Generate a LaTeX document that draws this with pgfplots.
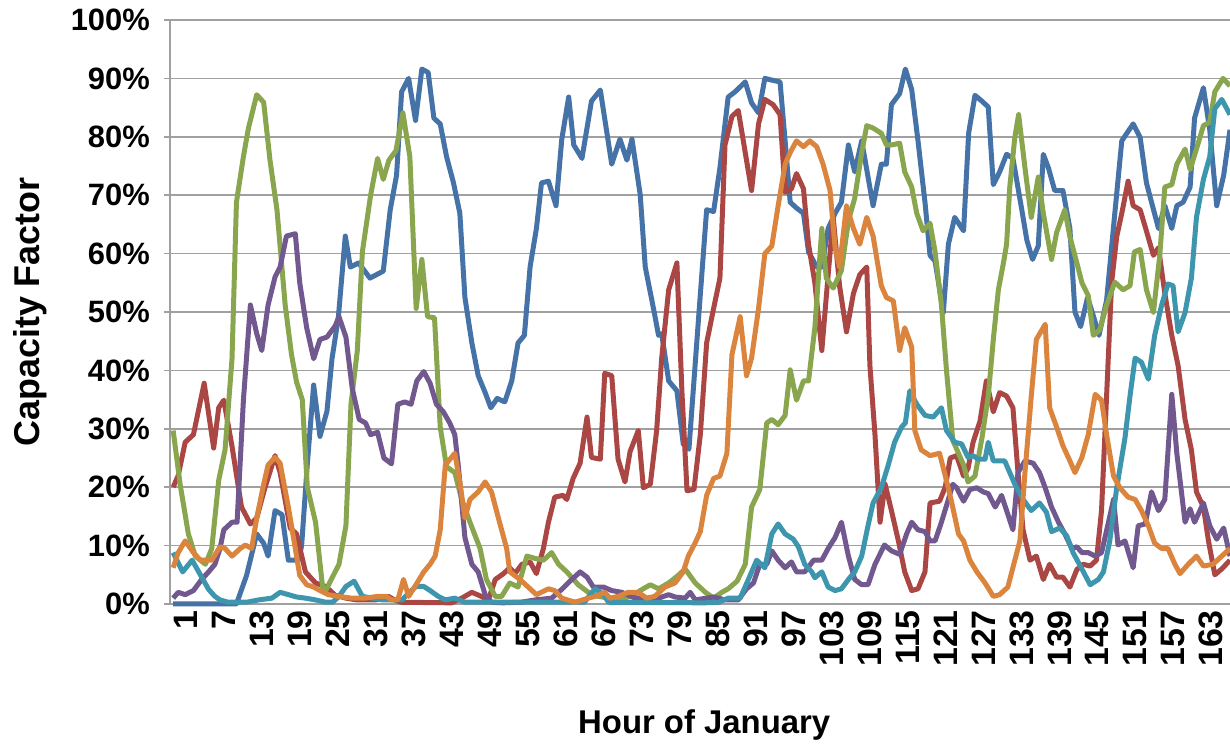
\documentclass[border=0pt]{standalone}
\usepackage{pgfplots}
\pgfplotsset{compat=1.18}
\usepackage{fontspec}
\setmainfont{Liberation Sans}
\definecolor{cBlue}{HTML}{4572A7}
\definecolor{cRed}{HTML}{AA4643}
\definecolor{cGreen}{HTML}{89A54E}
\definecolor{cPurple}{HTML}{71588F}
\definecolor{cCyan}{HTML}{3D96AE}
\definecolor{cOrange}{HTML}{DB843D}
\definecolor{cGrid}{HTML}{A0A0A0}
\begin{document}
\begin{tikzpicture}[x=1bp,y=1bp]
\useasboundingbox (0,0) rectangle (1230,745);
\begin{axis}[
  at={(170bp,141bp)}, anchor=south west,
  scale only axis, width=1060bp, height=584bp,
  xmin=0.5, xmax=168, ymin=0, ymax=100,
  clip=false,
  axis x line*=bottom, axis y line*=left,
  axis line style={cGrid, line width=1.5bp, -},
  ymajorgrids, grid style={cGrid, line width=1.5bp},
  ytick={0,10,...,100},
  yticklabels={0\%,10\%,20\%,30\%,40\%,50\%,60\%,70\%,80\%,90\%,100\%},
  xtick={1,7,...,163},
  xtick style={draw=none},
  ytick style={cGrid, line width=1.5bp},
  tick align=outside, major tick length=6bp,
  /pgf/number format/assume math mode=true,
  yticklabel style={font=\fontsize{31}{31}\selectfont\bfseries, anchor=east, inner sep=0pt, xshift=-14bp},
  xticklabel style={font=\fontsize{34}{34}\selectfont\bfseries, rotate=90, anchor=east, inner sep=0pt, yshift=-13bp},
  xlabel={Hour of January}, ylabel={Capacity Factor},
  xlabel style={font=\fontsize{33}{33}\selectfont\bfseries, at={(axis description cs:0.504,-0.207)}, anchor=center},
  ylabel style={font=\fontsize{36}{36}\selectfont\bfseries, at={(axis description cs:-0.132,0.5)}, anchor=center},
  no markers,
  every axis plot/.append style={line width=5bp, line join=round},
]
% blue
\addplot[cBlue] coordinates {(1,0) (11,0) (12.6,4.9) (14.2,12) (15.3,10.4) (16,8.2) (17.1,16) (18.2,15.3) (19.2,7.5) (20.8,7.5) (21.3,10) (22.2,24) (23.2,37.5) (24.2,28.7) (25.3,33) (26.1,42) (27.1,49) (28.2,63) (29,57.7) (30.3,58.4) (32.1,55.8) (34.2,57) (35.3,67.5) (36.3,73.4) (37.1,87.7) (38.2,90) (39.3,82.8) (40.3,91.6) (41.3,91) (42.2,83.2) (43.2,82.2) (44.2,76.6) (45.3,72.1) (46.3,66.9) (47.1,52.5) (48.2,44.7) (49.2,39.1) (50.3,36.2) (51.2,33.6) (52.2,35.2) (53.4,34.6) (54.5,38.2) (55.5,44.7) (56.5,46) (57.4,57.7) (58.4,64.3) (59.2,72.1) (60.3,72.4) (61.5,68.2) (62.4,79.5) (63.5,86.8) (64.3,78.6) (65.6,76.3) (67.1,86.1) (68.5,88) (70.3,75.3) (71.6,79.6) (72.7,76) (73.5,79.6) (74.8,70.1) (75.6,57.7) (76.9,50.6) (77.7,46) (78.2,46.3) (79.3,38.2) (80.6,36.5) (81.6,27.4) (82.5,26.5) (84,48.6) (85.3,67.5) (86.4,67.2) (87.4,74.7) (88.7,86.8) (89.8,87.7) (91.4,89.4) (92.4,85.8) (93.5,84.1) (94.5,90) (95.6,89.7) (96.9,89.4) (97.7,79.3) (98.5,68.8) (99.5,67.8) (100.6,66.9) (101.4,60.3) (102.7,57.7) (103.5,57.7) (104.5,64.3) (105.6,66.9) (106.6,68.8) (107.7,78.6) (108.7,74) (109.8,79.3) (111.6,68.2) (112.9,75.3) (113.7,75.3) (114.5,85.5) (115.8,87.4) (116.7,91.6) (117.7,88.1) (118.7,79.3) (119.8,68.8) (120.6,59.7) (121.4,58.7) (122.7,49.9) (123.5,61.6) (124.5,66.2) (125.9,63.9) (126.7,80.6) (127.7,87.1) (128.8,86.1) (129.8,85.1) (130.6,71.8) (131.6,74) (132.7,77) (133.7,76.3) (135.1,67.5) (135.9,62.3) (136.8,59) (137.7,61.3) (138.5,77) (139.3,74.7) (140.3,70.8) (141.6,70.8) (142.7,64.3) (143.5,50) (144.4,47.5) (145.5,52.5) (146.5,49) (147.3,46) (148.5,52) (149.8,66.9) (150.9,79.3) (151.7,80.6) (152.7,82.2) (153.8,79.9) (154.8,72.1) (155.6,68.8) (156.7,64.3) (157.7,68.2) (158.8,64.3) (159.6,68.2) (160.6,68.8) (161.7,71.4) (162.4,83.2) (163.8,88.4) (164.8,81.2) (165.9,68.2) (167,73.4) (168,81.2)};
% red
\addplot[cRed] coordinates {(1,20) (1.8,22) (2.9,27.7) (4.2,29) (5.9,37.8) (7.4,26.7) (8.2,33.6) (9,34.9) (10.3,27) (11.8,16.6) (13.2,13.7) (14.2,14.7) (15.5,19.9) (17.1,25.4) (17.9,22.5) (19.5,13) (20.5,12) (21.9,5.5) (23.5,3.6) (25.1,3) (26.6,1.5) (28.3,1) (30,0.7) (33,0.7) (35,1.3) (36,0.7) (37,0.3) (45,0.2) (46.6,1) (48.2,2) (49.7,1.3) (50.8,0.7) (51.9,4.2) (53.2,5.2) (54.2,6.2) (55,5.2) (56.1,6.8) (57.4,7.2) (58.4,5.2) (59.5,9.5) (60.3,14) (61.3,18.3) (62.6,18.6) (63.2,17.9) (64.2,21.5) (65.3,24.1) (66.4,32) (67.1,25.1) (68.5,24.8) (69.2,39.5) (70.3,39.1) (71.3,24.8) (72.4,20.9) (73.2,26.1) (74.5,29.7) (75.3,19.9) (76.4,20.5) (77.4,29.7) (78.2,42.1) (79.3,53.8) (80.6,58.4) (81.4,36.2) (82.2,19.4) (83.3,19.6) (84.3,29) (85.3,44.7) (86.4,50.6) (87.4,55.8) (88.2,78.6) (89.3,83.5) (90.3,84.5) (91.4,77.3) (92.4,70.8) (93.5,82.2) (94.5,86.4) (95.8,85.5) (96.9,83.8) (97.7,70.5) (98.7,71.1) (99.5,73.7) (100.6,71.1) (101.4,61.6) (102.4,55) (103.5,43.4) (104.5,56.4) (105.3,66.2) (106.3,54.5) (107.4,46.6) (108.5,53.2) (109.5,56.4) (110.6,57.7) (111.1,40.8) (111.9,29) (112.7,14) (113.5,20.5) (114.5,16) (115.6,10.8) (116.6,5.5) (117.7,2.3) (118.7,2.6) (119.8,5.5) (120.6,17.3) (122.1,17.6) (123,20) (123.8,25) (124.8,25.4) (125.9,21.9) (126.6,23.2) (127.4,27.7) (128.5,31.3) (129.5,38.2) (130.6,32.9) (131.6,36.2) (132.7,35.6) (133.7,33.6) (134.5,22.5) (135.3,12.7) (136.4,7.5) (137.4,8.2) (138.5,4.2) (139.5,6.8) (140.6,4.6) (141.6,4.6) (142.7,2.9) (143.8,5.9) (144.8,6.8) (145.9,6.5) (146.9,7.5) (147.7,16) (148.5,35.6) (149.3,55.1) (150.1,62.9) (150.9,66.9) (151.9,72.4) (152.7,68.2) (153.8,67.5) (154.6,64.6) (155.9,59.7) (156.7,61) (157.7,53.2) (158.8,46) (159.8,40.8) (160.9,31.6) (161.9,26.4) (162.7,19.2) (163.8,16.6) (164.6,10.8) (165.6,5) (166.7,6) (168,7.5)};
% green
\addplot[cGreen] coordinates {(1,29.7) (2.1,20.5) (3.4,12) (4.5,8.2) (6.1,6.8) (7.1,9.5) (8.2,21.2) (9.2,26.4) (10.3,42) (11,68.8) (12.1,76.6) (12.9,81.5) (14.2,87.2) (15.3,85.9) (16.3,76) (17.4,67.5) (18.7,51.2) (19.7,42.7) (20.5,38) (21.4,35) (22.2,20) (23.5,14) (24.6,3) (25.1,2.3) (27.2,6.8) (28.3,13.4) (29.1,34.2) (30.1,43.4) (30.9,60.3) (32.2,70) (33.3,76.3) (34.2,72.7) (35.1,76) (36.2,77.6) (37.3,84.1) (38.4,76.6) (39.4,50.6) (40.3,59) (41.2,49.2) (42.3,49) (43.2,30.3) (44.2,23.5) (45.5,22.5) (46.6,17.9) (47.9,14) (49.5,9.5) (50.5,4.2) (51.9,1.3) (52.9,1.3) (54.2,3.6) (55.5,2.9) (56.9,8.2) (58.2,7.8) (59.5,7.5) (60.8,8.8) (61.9,6.8) (63.2,5.5) (65,3.3) (66.6,2) (68.2,1.3) (70,1) (72,1) (73.5,1.3) (74.8,2.3) (76.4,3.3) (77.7,2.6) (79.3,3.6) (80.8,4.9) (81.9,6) (83.5,3.6) (85.1,2) (86.4,1) (87.7,2) (88.7,2.6) (90.1,3.9) (91.4,6.8) (92.4,16.6) (93.7,19.6) (94.8,31) (95.6,31.6) (96.6,30.7) (97.7,32.3) (98.5,40.1) (99.5,34.9) (100.6,38.2) (101.4,38.2) (102.4,47.3) (103.5,64.3) (104.2,55.8) (105.3,54.1) (106.6,57.1) (107.7,65.6) (108.7,69.5) (109.8,77.3) (110.6,81.9) (111.6,81.5) (112.9,80.6) (113.7,78.6) (114.5,78.6) (115.8,78.9) (116.6,74) (117.7,71.4) (118.5,66.9) (119.5,63.9) (120.6,65.2) (121.4,60.3) (122.4,51.2) (123.2,40) (124.2,28) (125.1,25.8) (125.9,23.8) (126.6,20.9) (127.7,21.9) (128.8,28.4) (129.8,35.6) (130.6,45.3) (131.4,53.8) (132.2,58.4) (132.7,61.6) (133.2,71.4) (134,79.9) (134.6,83.8) (135.6,74.7) (136.6,66.2) (137.7,73.1) (138.5,66.9) (139.8,59) (140.6,63.6) (141.9,67.5) (142.7,62.9) (143.8,58.4) (144.6,55) (145.6,52.8) (146.4,46) (147.4,46.9) (148.5,51.2) (149.8,55.1) (151.1,53.8) (152.2,54.5) (152.9,60.3) (153.8,60.7) (154.8,53.8) (155.9,49.9) (156.9,59.7) (157.7,71.4) (158.8,71.8) (159.6,75.3) (160.9,77.9) (161.7,74.4) (162.7,77.9) (163.8,81.9) (164.8,82.5) (165.6,87.7) (166.9,90) (168,88.7)};
% purple
\addplot[cPurple] coordinates {(1,1) (1.8,2) (2.9,1.6) (4.2,2.3) (5.5,4.2) (6.6,5.5) (7.6,6.8) (8.4,9.5) (9,12.7) (10.3,14) (11.1,14) (12.1,34.9) (13.2,51.2) (14.2,46.3) (15,43.4) (16,51.2) (17.1,56) (17.9,57.7) (18.9,63) (20.3,63.4) (21,55) (22.1,47.3) (23.2,42) (24.2,45.3) (25.3,45.7) (26.6,47.6) (27.2,49.2) (28.3,45.7) (29.3,36.9) (30.4,31.6) (31.4,31) (32.2,29) (33.3,29.4) (34.3,25) (35.5,24) (36.5,34.2) (37.6,34.6) (38.6,34.2) (39.5,38.2) (40.6,39.8) (41.6,37.8) (42.6,34.2) (43.7,32.9) (44.7,31) (45.5,29) (46.1,23.2) (47.1,11.4) (48.2,6.8) (49.2,5.5) (50.3,1.6) (51.3,0.3) (53,0.2) (56,0.3) (58.2,0.7) (60.8,1) (62.4,2.5) (63.7,3.9) (65.3,5.5) (66.4,4.6) (67.4,2.9) (69,2.9) (70.3,2.3) (71.9,2) (74,1) (77.7,1) (79.3,1.6) (80.3,1.2) (81.9,1) (82.7,2) (83.5,0.7) (86.4,1.2) (88.2,0.7) (90.3,0.7) (91.6,2.6) (92.7,3.6) (93.7,6.8) (94.8,6.8) (95.6,9.1) (96.6,7.5) (97.7,6.2) (98.7,7.2) (99.5,5.5) (100.8,5.5) (102.2,7.5) (103.5,7.5) (104.5,9.5) (105.6,11.4) (106.6,14) (107.7,8.2) (108.7,4.2) (109.8,3.3) (110.8,3.3) (111.9,6.8) (113.4,10.1) (114.5,9.1) (115.8,8.5) (116.9,12) (117.7,14) (118.7,12.7) (119.8,12.4) (120.6,10.8) (121.4,10.8) (122.4,14) (123.5,17.9) (124.2,20.5) (124.8,19.9) (125.9,17.6) (126.9,19.6) (128,19.9) (129,19.2) (129.8,18.9) (130.9,16.6) (131.9,18.6) (132.7,16) (133.7,12.7) (134.5,22.5) (135.6,24.5) (136.9,24.1) (137.9,22.5) (138.8,19.9) (139.8,16.6) (140.9,14) (141.9,12) (143,9.5) (143.8,9.8) (144.6,8.8) (145.6,8.8) (146.7,8.2) (147.7,8.8) (148.8,14) (149.6,17.9) (150.3,10.1) (151.4,10.8) (152.7,6.2) (153.5,13.4) (154.6,13.7) (155.6,19.2) (156.7,16) (157.7,17.9) (158.8,35.9) (159.6,25.8) (160.9,14) (161.7,16.3) (162.4,14) (163.8,17.3) (164.8,13.4) (165.9,11.1) (167,13) (168,8.2)};
% cyan
\addplot[cCyan] coordinates {(1,8.8) (2.5,5.5) (4,7.5) (5.3,5) (6.6,2.5) (7.6,1.3) (8.4,0.7) (9.7,0.3) (12.6,0.3) (14.5,0.7) (16.6,1) (17.9,2) (19.2,1.6) (20.5,1.2) (21.9,1) (23.5,0.7) (25.1,0.3) (26.2,0.3) (27.2,1.3) (28.3,3) (29.6,3.9) (30.9,1.3) (32.5,1) (34.1,0.7) (37.2,0.7) (38.3,2) (39.4,3) (40.6,3) (41.6,2.3) (42.9,1.3) (44,0.7) (45.5,1) (47.1,0.3) (66,0.3) (66.9,1.6) (67.7,2.6) (69,1.6) (69.8,0.3) (85,0.2) (87.2,0.3) (88.7,1) (90.6,1) (91.9,4.2) (93.2,7.5) (94.5,6.2) (95.6,12) (96.6,13.7) (97.7,12) (99,11.1) (99.8,9.8) (100.8,6.8) (101.9,5.5) (102.4,4.5) (103.5,5.5) (104.5,2.9) (105.6,2.3) (106.6,2.6) (107.7,4.2) (108.7,5.5) (109.8,8.2) (110.8,13.4) (111.6,17.3) (112.9,19.9) (114,23.8) (115,27.7) (116.1,30.3) (116.7,31) (117.4,36.5) (118.5,34.2) (119.8,32.3) (121.1,32) (122.4,33.6) (123.2,29.7) (124.5,27.7) (125.6,27.4) (126.6,25.1) (127.4,25.4) (128.2,24.8) (129.3,24.8) (129.8,27.7) (130.6,24.5) (132.4,24.5) (134,20.5) (135.3,17.9) (136.6,16) (137.9,17.3) (139,15.7) (139.8,12.4) (141.1,13) (142.2,11.7) (143.2,8.8) (144.5,6.2) (145.9,3.3) (147.2,4.2) (148,5.5) (149,10.8) (150.1,19.9) (151.4,28.4) (152.2,35.6) (153,42.1) (154,41.4) (155.1,38.5) (156.1,46) (157.2,51.2) (158.2,54.8) (159,54.5) (159.8,46.6) (160.9,49.9) (161.9,55.8) (162.7,66.2) (163.8,72.7) (164.8,76.6) (165.6,84.8) (166.7,86.4) (168,83.8)};
% orange
\addplot[cOrange] coordinates {(1,6.2) (1.8,8.8) (2.9,10.8) (4.2,8.8) (5.3,7.5) (7.1,7.5) (8.4,9.8) (9.2,9.5) (10.3,8.2) (11.6,9.5) (12.4,10.1) (13.4,9.5) (14.2,14.7) (15.3,20.5) (16,23.8) (17.1,25.1) (17.9,24.1) (19.2,16.6) (20.3,9.5) (21,4.9) (22.1,3.3) (23.2,2.9) (24.2,2.3) (25.5,1.6) (27.1,1.3) (29.2,1) (31.3,1) (33.3,1.3) (34.7,1.3) (35.5,0.7) (36.5,0.7) (37.4,4.2) (38.2,1.3) (39.2,3) (40.6,5.5) (41.6,6.8) (42.4,8.2) (43.2,12.7) (44,23.8) (45.5,25.8) (46.3,20.9) (47.1,14.7) (47.9,17.9) (49.2,19.2) (50.3,20.9) (51.3,19.2) (52.4,14.7) (53.7,9.5) (54.2,5.5) (55.8,4.2) (57.1,2.9) (58.4,1.6) (60.3,2.6) (61.3,2.3) (62.4,1) (64.5,0.3) (66.6,1) (67.7,1.3) (69.2,2) (70,1) (71.3,1.3) (72.9,2) (74.5,2) (75.8,1) (77.1,1.3) (78.7,2.9) (80.3,3.6) (81.6,5.5) (82.4,8.2) (83.5,10.5) (84.3,12.4) (85.3,18.6) (86.4,21.5) (87.4,21.9) (88.5,25.8) (89.3,42.7) (90.6,49.2) (91.6,39.1) (92.4,42.1) (93.5,50.6) (94.5,60) (95.6,61.3) (96.6,68.2) (97.7,75.3) (98.5,77.3) (99.5,79.3) (100.6,78.3) (101.6,79.3) (102.7,78.3) (103.7,75.3) (104.8,70.8) (105.6,61) (106.3,57.7) (107.4,68.2) (108.5,64.3) (109.5,61.6) (110.6,66.2) (111.6,63) (112.9,54.5) (113.7,52.5) (114.8,51.9) (115.8,43.4) (116.6,47.3) (117.7,44) (118.2,29.7) (119.2,26.4) (120.6,25.4) (122.1,25.8) (123,22) (124,17.5) (125.1,12) (125.9,10.8) (126.9,7.5) (128,5.5) (129.3,3.6) (130.6,1.3) (131.6,1.6) (132.9,2.9) (134,7.5) (134.8,10.8) (135.6,22.5) (136.6,35.6) (137.4,45.3) (138.8,47.9) (139.5,33.6) (140.6,30.3) (141.6,27.1) (142.7,24.5) (143.5,22.5) (144.6,25.1) (145.6,29) (146.7,35.9) (147.7,34.9) (148.5,29) (149.6,21.9) (150.6,19.9) (151.9,18.3) (153,17.9) (154,16) (155.1,13.4) (156.1,10.4) (157.2,9.5) (158.2,9.5) (159.3,6.8) (160.1,5.2) (161.4,6.8) (162.7,8.2) (163.8,6.5) (165.3,6.8) (166.7,8.2) (168,9.5)};
\end{axis}
\end{tikzpicture}
\end{document}
